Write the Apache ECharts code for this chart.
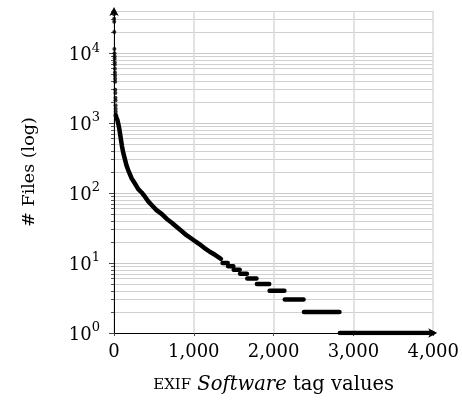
<!DOCTYPE html>
<html><head><meta charset="utf-8">
<script src="https://cdn.jsdelivr.net/npm/echarts@6/dist/echarts.min.js"></script>
<style>html,body{margin:0;padding:0;background:#fff}#c{width:462px;height:404px}</style>
</head><body><div id="c"></div>
<script>
// Head of the distribution: individual points (rank, # files)
const headRanks  = [1, 2, 3, 4, 5, 6, 7, 8, 9, 10, 11, 12, 13, 14, 15, 16, 17, 18, 19, 20, 21, 22];
const headValues = [36000, 31000, 28000, 20000, 11500, 10000, 9000, 8300, 7400, 6800, 6000, 5300, 4800, 4300, 3900, 3000, 2700, 2300, 2100, 1800, 1600, 1450];
// Body of the distribution (dense curve)
const curveRanks  = [22, 30, 41, 52, 62, 75, 87, 100, 116, 135, 158, 180, 200, 221, 260, 304, 346, 390, 429, 480, 533, 600, 658, 720, 783, 850, 908, 991, 1060, 1130, 1200, 1270, 1340];
const curveValues = [1300, 1200, 1120, 1000, 880, 720, 580, 470, 375, 310, 245, 210, 185, 162, 138, 114, 102, 88, 76, 66, 57, 50, 43, 38, 33, 28.5, 25, 21.5, 19, 16.5, 14.5, 13, 11.5];
// Tail: plateaus of equal counts
const stepValues = [10, 9, 8, 7, 6, 5, 4, 3, 2, 1];
const stepStart  = [1360, 1430, 1500, 1580, 1670, 1790, 1950, 2140, 2380, 2830];
const stepEnd    = [1425, 1495, 1575, 1665, 1785, 1945, 2135, 2375, 2825, 3990];
// Axis ticks
const xTicks = [0, 1000, 2000, 3000, 4000];
const yMajor = [1, 10, 100, 1000, 10000];
const yMinor = [2,3,4,5,6,7,8,9,20,30,40,50,60,70,80,90,200,300,400,500,600,700,800,900,
                2000,3000,4000,5000,6000,7000,8000,9000,20000,30000,40000];

const FONT = 'DejaVu Serif';
const chart = echarts.init(document.getElementById('c'), null, {renderer: 'canvas'});
const series = [];
series.push({
  type: 'scatter', xAxisIndex: 0, yAxisIndex: 0, silent: true,
  data: headRanks.map((r, i) => [r, headValues[i]]),
  symbol: 'circle', symbolSize: 4, itemStyle: {color: '#000'}, z: 5
});
series.push({
  type: 'line', xAxisIndex: 0, yAxisIndex: 0, silent: true, showSymbol: false, symbol: 'none',
  data: curveRanks.map((r, i) => [r, curveValues[i]]),
  lineStyle: {color: '#000', width: 4.5, cap: 'round', join: 'round'}, z: 5
});
stepValues.forEach((v, i) => {
  series.push({
    type: 'line', xAxisIndex: 0, yAxisIndex: 0, silent: true, showSymbol: false, symbol: 'none',
    data: [[stepStart[i], v], [stepEnd[i], v]],
    lineStyle: {color: '#000', width: 4.5, cap: 'round'}, z: 5
  });
});

chart.setOption({
  animation: false,
  backgroundColor: '#fff',
  grid: {left: 114, right: 27, top: 11, bottom: 71, containLabel: false},
  xAxis: [{
    type: 'value', min: 0, max: 4000, interval: 1000,
    name: '{sc|EXIF} {it|Software} tag values',
    nameLocation: 'middle', nameGap: 42,
    nameTextStyle: {fontFamily: FONT, fontSize: 19.5, color: '#000',
      rich: {sc: {fontFamily: FONT, fontSize: 15, color: '#000'},
             it: {fontFamily: FONT, fontSize: 19.5, fontStyle: 'italic', color: '#000'}}},
    axisLine: {show: true, lineStyle: {color: '#000', width: 1}, symbol: ['none', 'arrow'], symbolSize: [7, 9], symbolOffset: [0, 4]},
    axisTick: {show: true, length: 3, lineStyle: {color: '#444'}},
    axisLabel: {fontFamily: FONT, fontSize: 18, color: '#000', margin: 10,
      formatter: v => xTicks.indexOf(v) >= 0 ? v.toLocaleString('en-US') : ''},
    splitLine: {show: true, lineStyle: {color: '#dadada', width: 1.5}}
  }],
  yAxis: [{
    type: 'log', logBase: 10, min: 1, max: 40000,
    name: '# Files (log)', nameLocation: 'middle', nameGap: 76, nameRotate: 90,
    nameTextStyle: {fontFamily: FONT, fontSize: 17.5, color: '#000'},
    axisLine: {show: true, lineStyle: {color: '#000', width: 1}, symbol: ['none', 'arrow'], symbolSize: [7, 9], symbolOffset: [0, 4]},
    axisTick: {show: true, length: 5, customValues: yMajor, lineStyle: {color: '#444'}},
    axisLabel: {customValues: yMajor, margin: 14, color: '#000',
      formatter: v => '{b|10}{e|' + Math.round(Math.log10(v)) + '}',
      rich: {b: {fontFamily: FONT, fontSize: 18, color: '#000', verticalAlign: 'bottom', padding: [4, 0, 0, 0]},
             e: {fontFamily: FONT, fontSize: 13, color: '#000', verticalAlign: 'top', padding: [0, 0, 10, 0]}}},
    splitLine: {show: true, lineStyle: {color: '#c8c8c8', width: 1}}
  }, {
    type: 'log', logBase: 10, min: 1, max: 40000, position: 'left',
    axisLine: {show: false},
    axisTick: {show: true, length: 3, customValues: yMinor, lineStyle: {color: '#555'}},
    axisLabel: {show: false},
    splitLine: {show: true, lineStyle: {color: '#d0d0d0', width: 1}}
  }],
  series: series
});
</script></body></html>
